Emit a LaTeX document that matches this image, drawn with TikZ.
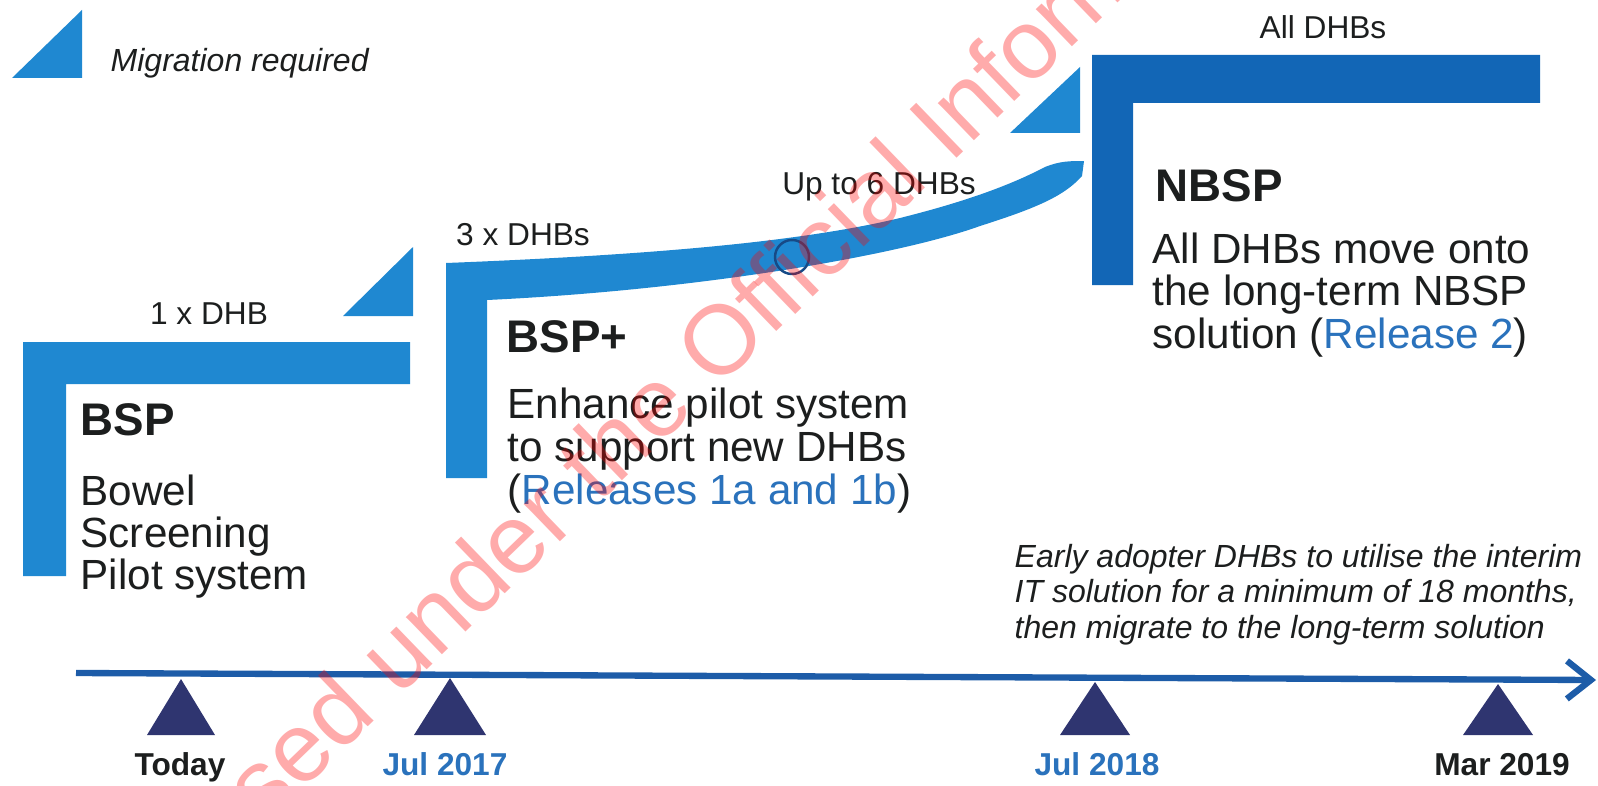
\documentclass[tikz,border=0pt]{standalone}
\usepackage{fontspec}
\setmainfont{Liberation Sans}
\usetikzlibrary{arrows.meta}

\definecolor{barblue}{RGB}{31,136,209}
\definecolor{nbspblue}{RGB}{18,102,182}
\definecolor{lineblue}{RGB}{29,92,168}
\definecolor{markernavy}{RGB}{47,53,112}
\definecolor{relblue}{RGB}{42,114,188}
\definecolor{inkgrey}{RGB}{28,30,30}

\tikzset{
  lbl/.style={inner sep=0pt, anchor=base, text=inkgrey, font=\fontsize{9}{10}\selectfont},
  head/.style={inner sep=0pt, anchor=base west, text=inkgrey, font=\fontsize{13}{13}\selectfont\bfseries},
  body/.style={inner sep=0pt, anchor=base west, text=inkgrey, font=\fontsize{12}{12}\selectfont},
  note/.style={inner sep=0pt, anchor=base west, text=inkgrey, font=\fontsize{9.1}{10}\selectfont\itshape},
  datelbl/.style={inner sep=0pt, anchor=base, font=\fontsize{9}{10}\selectfont\bfseries},
  stamp/.style={inner sep=0pt, anchor=base west, text=red, text opacity=.33, font=\fontsize{27.9}{28}\selectfont}
}

\begin{document}
\begin{tikzpicture}[x=0.01cm,y=-0.01cm]
                                    \useasboundingbox (0,0) rectangle (1598,785);
                                    \def\mkbase{735};
% legend
                                    \fill[barblue] (12,78) -- (82,10) -- (82,78) -- cycle;
                                    \node[note] (legend) at (110,72) {Migration required};

% BSP
                                    \fill[barblue] (23,576) -- (23,342) -- (410,342) -- (410,384) -- (66,384) -- (66,576) -- cycle;
                                    \fill[barblue] (343,316) -- (413,247) -- (413,316) -- cycle;
                                    \node[lbl] (bsp-dhb) at (209,324) {1 x DHB};
                                    \node[head] (bsp) at (80,435) {BSP};
                                    \node[body] (bsp-a) at (80,505) {Bowel};
                                    \node[body] (bsp-b) at (80,547) {Screening};
                                    \node[body] (bsp-c) at (80,589) {Pilot system};

% BSP+
                                    \fill[barblue] (446,478) -- (446,263) .. controls (650,255) and (800,242) .. (900,218)
                                        .. controls (980,198) and (1020,180) .. (1045,167)
                                        .. controls (1060,161) and (1070,161) .. (1084,161) -- (1082,176)
                                        .. controls (1065,195) and (1040,207) .. (980,226)
                                        .. controls (900,255) and (700,290) .. (487,300) -- (487,478) -- cycle;
                                    \draw[lineblue!80!black, line width=.7pt] (792,257) circle (17);
                                    \node[lbl] (bspp-dhb) at (523,245) {3 x DHBs};
                                    \node[lbl] (bspp-six) at (879,195) {Up to 6 DHBs};
                                    \node[head] (bspp) at (506,352) {BSP+};
                                    \node[body] (bspp-a) at (507,418) {Enhance pilot system};
                                    \node[body] (bspp-b) at (507,461) {to support new DHBs};
                                    \node[body] (bspp-c) at (507,504) {(\textcolor{relblue}{Releases 1a and 1b})};

% NBSP
                                    \fill[barblue] (1010,133) -- (1080,67) -- (1080,133) -- cycle;
                                    \fill[nbspblue] (1092,285) -- (1092,55) -- (1540,55) -- (1540,103) -- (1133,103) -- (1133,285) -- cycle;
                                    \node[lbl] (nbsp-all) at (1323,39) {All DHBs};
                                    \node[head] (nbsp) at (1155,201) {NBSP};
                                    \node[body] (nbsp-a) at (1152,263) {All DHBs move onto};
                                    \node[body] (nbsp-b) at (1152,305) {the long-term NBSP};
                                    \node[body] (nbsp-c) at (1152,348) {solution (\textcolor{relblue}{Release 2})};

% interim note
                                    \node[note] (note-a) at (1014,567) {Early adopter DHBs to utilise the interim};
                                    \node[note] (note-b) at (1014,602) {IT solution for a minimum of 18 months,};
                                    \node[note] (note-c) at (1014,638) {then migrate to the long-term solution};

% timeline
                                    \coordinate (tl-start) at (76,673);
                                    \coordinate (tl-end) at (1596,680);
                                    \draw[lineblue, line width=1.8pt, -{Straight Barb[length=2.4mm,width=3.8mm]}] (tl-start) -- (tl-end);
                                    \foreach \mx/\mw/\my in {181/34/679, 450/36/678, 1095/35/682, 1498/35/684}
                                        \fill[markernavy] (\mx,\my) -- (\mx+\mw,\mkbase) -- (\mx-\mw,\mkbase) -- cycle;
                                    \node[datelbl, text=inkgrey] (today) at (180,775) {Today};
                                    \node[datelbl, text=relblue] (jul17) at (445,775) {Jul 2017};
                                    \node[datelbl, text=relblue] (jul18) at (1097,775) {Jul 2018};
                                    \node[datelbl, text=inkgrey] (mar19) at (1502,775) {Mar 2019};

% stamp
                                    \begin{scope}
                                    \clip (0,0) rectangle (1598,785);
                                    \node[stamp, rotate=44] (oia) at (80,1005) {Released under the Official Information Act};
                                    \end{scope}
                                \end{tikzpicture}
\end{document}
